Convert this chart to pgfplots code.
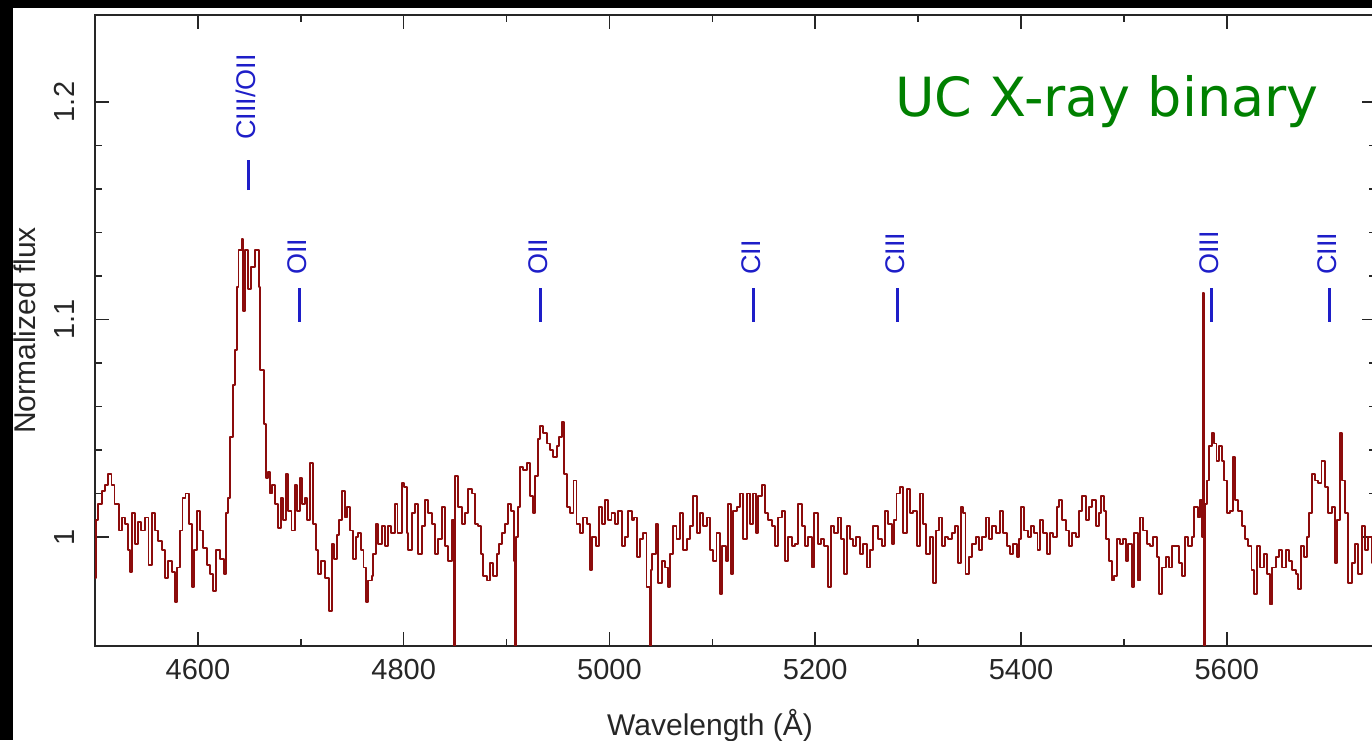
\documentclass[border=0pt]{standalone}
\usepackage{fontspec}
\setmainfont{Liberation Sans}
\newfontfamily\dejavu{DejaVu Sans}
\usepackage{pgfplots}
\pgfplotsset{compat=1.18}
\usepackage{pgfplotstable}
\definecolor{spec}{RGB}{140,12,12}
\definecolor{lineblue}{RGB}{30,30,200}
\definecolor{labgreen}{RGB}{0,128,0}
\pgfplotstableread{
lam flux
4500 0.981
4501 1.008
4503 1.015
4506.5 1.021
4510 1.024
4513 1.029
4516 1.024
4519 1.015
4523 1.003
4526 1.009
4529 1.006
4532 0.994
4534 0.984
4536 1.011
4539 0.997
4542 1.007
4545 1.003
4549 1.009
4552 0.987
4555 1.011
4558 1.003
4561.5 0.998
4565 0.994
4568 0.981
4571 0.989
4574.5 0.984
4578 0.970
4580 0.986
4582.6 1.003
4585 1.018
4588 1.020
4591 1.006
4594 0.977
4596.5 0.994
4599 1.012
4602 1.003
4605 0.995
4608.5 0.987
4612 0.983
4615 0.975
4618 0.994
4621.5 0.990
4625 0.983
4627 1.011
4629 1.018
4631 1.046
4634 1.070
4636 1.086
4638 1.115
4639.5 1.132
4642.6 1.137
4644 1.104
4646 1.132
4649 1.114
4652 1.124
4655.5 1.132
4659 1.115
4660.5 1.077
4664 1.052
4666 1.027
4668 1.030
4670 1.020
4672 1.024
4675 1.015
4677.5 1.004
4681 1.018
4683 1.008
4686 1.029
4688 1.012
4691 1.003
4694 1.024
4696 1.012
4699 1.027
4701 1.015
4704 1.018
4706 1.008
4709 1.034
4712 1.006
4715 0.994
4717 0.983
4720 0.989
4723.5 0.981
4727 0.966
4730 0.997
4732 0.990
4735 1.001
4737 1.008
4740 1.021
4743 1.009
4745 1.014
4748 1.003
4751 0.990
4754 1.000
4756 1.002
4758.5 0.994
4761 0.986
4763 0.970
4765.7 0.980
4769 0.982
4770.5 0.992
4772.8 1.006
4775.4 0.997
4778.6 1.005
4781.9 0.996
4785 1.005
4788 1.002
4791.6 1.015
4794 1.002
4798 1.025
4800.7 1.023
4803 1.002
4804.5 0.994
4807.8 1.011
4811 1.015
4814.3 0.992
4817.5 1.005
4820.7 1.017
4824 1.011
4827.2 1.006
4830.5 0.992
4833.7 0.999
4837.6 1.014
4840 0.996
4843.4 0.989
4846.7 1.008
4849 0.930
4850.2 1.028
4853 1.014
4856.4 1.006
4859.6 1.011
4862.8 1.022
4866 1.020
4869.4 1.006
4872.6 1.005
4875 0.992
4877.4 0.982
4880.7 0.980
4884 0.988
4887 0.982
4890.4 0.992
4892.7 0.997
4895.3 1.002
4898.5 1.006
4901.8 1.015
4904.3 1.012
4907.6 0.989
4908.3 0.930
4909.5 1.000
4910.8 1.014
4913 1.032
4916.3 1.031
4919.6 1.034
4922.8 1.019
4926 1.011
4927.7 1.028
4930.3 1.045
4932.5 1.051
4935.8 1.048
4939 1.043
4942.2 1.040
4945.5 1.037
4948.7 1.042
4951 1.046
4953.6 1.053
4956 1.029
4958.4 1.014
4961.7 1.011
4965 1.026
4968 1.006
4971.4 1.002
4974.6 1.009
4978 1.006
4981 0.985
4983.4 1.000
4986.6 0.996
4990 1.014
4993 1.006
4995.7 1.017
4999 1.008
5002 1.011
5005.4 1.006
5008.5 1.012
5011.8 0.996
5015 1.000
5018.3 1.012
5021.5 1.008
5024 1.009
5026.4 0.991
5029.6 0.999
5032.8 1.002
5036 0.977
5039 0.930
5040 0.985
5041.6 0.992
5044.8 1.006
5047.4 0.979
5050.7 0.989
5053.9 0.986
5056.5 0.977
5058.8 0.992
5062 1.005
5065.2 0.999
5068.5 1.011
5071.7 0.994
5075 0.999
5078.2 1.005
5081.4 1.019
5084.7 1.002
5088 1.011
5091.2 1.005
5094.4 1.009
5097.6 0.994
5100.9 0.989
5104 1.002
5107.4 0.974
5109.6 0.996
5112.9 0.989
5115.5 1.015
5118 0.983
5120.3 1.012
5123.6 1.014
5126.8 1.020
5130 0.999
5133.3 1.020
5136.5 1.006
5139.8 1.020
5142 1.002
5144.6 1.019
5147.9 1.024
5151 1.011
5154.3 1.008
5157.6 1.005
5160.8 0.996
5164 1.009
5167.3 1.012
5170.5 0.989
5173.8 1.000
5177 0.996
5180.3 0.997
5183.5 1.015
5186.7 1.005
5190 0.996
5193.2 1.000
5196.5 0.986
5199 1.011
5202.3 0.997
5205.5 0.999
5208.8 0.996
5212 0.977
5215.3 1.005
5218.5 1.002
5221.7 1.009
5225 0.999
5227.6 0.983
5230.5 1.005
5233.7 0.999
5237 0.996
5240 1.000
5243.4 0.992
5246.7 0.997
5250 0.986
5253 0.994
5256.4 1.005
5261 0.999
5264.5 0.996
5267.7 1.012
5271 1.006
5274.2 0.997
5276.8 1.008
5279 1.020
5282.3 1.023
5285.5 1.002
5288.8 1.022
5292 1.011
5295.3 1.012
5298.5 0.996
5301.7 1.020
5305 1.006
5308 0.992
5311.5 1.000
5314.7 0.979
5317 1.003
5320 1.009
5322.8 0.996
5326 1.000
5329.3 0.999
5332.5 1.002
5335.8 1.005
5338.4 0.988
5341.6 1.014
5344 1.011
5346 0.983
5349.4 0.991
5352.6 0.997
5356 1.000
5359 0.994
5362.3 1.000
5365.6 1.009
5368.8 0.999
5372 1.005
5375.3 1.002
5379.5 1.012
5382.7 1.002
5386 0.996
5389 0.992
5392.5 0.997
5395.7 0.991
5398 0.999
5400 1.014
5403 1.003
5406.4 1.000
5409.6 1.005
5413 1.002
5416 0.994
5418.4 1.008
5421.6 1.002
5425 0.992
5428 1.002
5431 1.000
5434.6 1.014
5437 1.017
5440 1.008
5443.3 1.003
5446.6 0.996
5449.8 1.002
5453 1.000
5456.3 1.012
5459.5 1.019
5462.8 1.008
5466 1.014
5469 1.017
5472.5 1.005
5475.7 1.011
5478 1.019
5481 1.012
5483 0.999
5485.5 0.989
5488 0.980
5490.6 0.982
5493 0.999
5496 0.997
5499.4 0.999
5501.6 0.989
5504 0.997
5507.5 0.977
5510 1.002
5513.3 0.980
5515.6 1.009
5518.8 1.003
5522 0.997
5525.3 0.996
5528.5 1.000
5531.8 0.991
5534 0.974
5537.3 0.986
5540.5 0.991
5543.8 0.986
5547 0.996
5550.2 0.996
5553.5 0.988
5556.7 0.982
5559.3 1.000
5562.5 0.996
5565.8 1.000
5568.4 1.014
5571.6 1.009
5574 1.017
5576 1.000
5577 1.112
5578.2 0.930
5579.2 1.015
5580.4 1.026
5582.6 1.042
5585.2 1.048
5587.8 1.043
5590 1.035
5592.3 1.042
5595 1.035
5597.5 1.026
5600 1.011
5603 1.012
5606.3 1.037
5608 1.017
5611 1.012
5614.4 1.005
5617.6 0.999
5621 0.996
5624 0.985
5626.7 0.974
5629.3 0.996
5632.5 0.986
5635.8 0.992
5639 0.983
5641.6 0.969
5644 0.986
5647.4 0.991
5650.7 0.994
5654 0.986
5657.1 0.994
5660.4 0.989
5663.6 0.985
5666.9 0.983
5669.5 0.976
5672 0.996
5675.3 0.991
5677.6 1.000
5680 1.011
5682.4 1.029
5685.7 1.026
5689 1.025
5692 1.035
5695.4 1.023
5698.6 1.011
5701.9 1.014
5705 0.988
5707.4 1.008
5710 1.048
5712.2 1.026
5714.8 1.011
5718 0.979
5721.3 0.988
5724.5 0.997
5727.8 0.983
5731 1.005
5734.3 0.994
5737.5 1.000
5740.8 0.988
5744 0.995
5746 0.990
}\spectrum

\begin{document}
\begin{tikzpicture}
\begin{axis}[
  at={(47.5pt,47.1pt)}, anchor=south west,
  scale only axis, width=640.5pt, height=315.4pt,
  xmin=4500, xmax=5745, ymin=0.95, ymax=1.24,
  xtick={4600,4800,5000,5200,5400,5600},
  xticklabels={4600,4800,5000,5200,5400,5600},
  minor x tick num=1,
  ytick={1,1.1,1.2}, yticklabels={1,1.1,1.2},
  minor y tick num=4,
  tick align=inside, major tick length=7pt, minor tick length=3.5pt,
  axis line style={black!85, line width=0.9pt},
  every tick/.style={black!85, line width=0.8pt},
  tick label style={font=\fontsize{14.5}{17}\selectfont, text=black!85},
  xticklabel style={anchor=base, yshift=-17pt},
  yticklabel style={xshift=-10pt, rotate=90, anchor=base},
  /pgf/number format/assume math mode=true,
]
\addplot[const plot, spec, line width=0.95pt, line join=round] table[x=lam, y=flux] {\spectrum};
\addplot[lineblue, line width=1.3pt] coordinates {(4649,1.1595) (4649,1.1733)};
\addplot[lineblue, line width=1.3pt] coordinates {(4699,1.0989) (4699,1.1145)};
\addplot[lineblue, line width=1.3pt] coordinates {(4933,1.0989) (4933,1.1145)};
\addplot[lineblue, line width=1.3pt] coordinates {(5140,1.0989) (5140,1.1145)};
\addplot[lineblue, line width=1.3pt] coordinates {(5280,1.0989) (5280,1.1145)};
\addplot[lineblue, line width=1.3pt] coordinates {(5585,1.0989) (5585,1.1145)};
\addplot[lineblue, line width=1.3pt] coordinates {(5700,1.0989) (5700,1.1145)};
\begin{scope}[every node/.style={lineblue, rotate=90, anchor=west, inner sep=0pt, text height=0.72em, text depth=0pt, font=\fontsize{13.5}{16}\selectfont}]
\node at (axis cs:4649,1.1825) {CIII/OII};
\node at (axis cs:4699,1.1205) {OII};
\node at (axis cs:4933,1.1205) {OII};
\node at (axis cs:5140,1.1205) {CII};
\node at (axis cs:5280,1.1205) {CIII};
\node at (axis cs:5585,1.1205) {OIII};
\node at (axis cs:5700,1.1205) {CIII};
\end{scope}
\end{axis}
\node[anchor=base west, inner sep=0pt, text=labgreen, font=\dejavu\fontsize{27}{32}\selectfont] at (447.5pt,311.5pt) {UC X-ray binary};
\node[rotate=90, inner sep=0pt, text=black!85, font=\fontsize{15}{18}\selectfont] at (12.5pt,204.8pt) {Normalized flux};
\node[anchor=base, inner sep=0pt, text=black!85, font=\fontsize{15}{18}\selectfont] at (355pt,2.5pt) {Wavelength (Å)};
\fill[black] (0,0) rectangle (6.3pt,370pt);
\fill[black] (0,365.8pt) rectangle (690pt,372pt);
\pgfresetboundingbox
\path[use as bounding box] (0,0) rectangle (686pt,370pt);
\end{tikzpicture}
\end{document}
